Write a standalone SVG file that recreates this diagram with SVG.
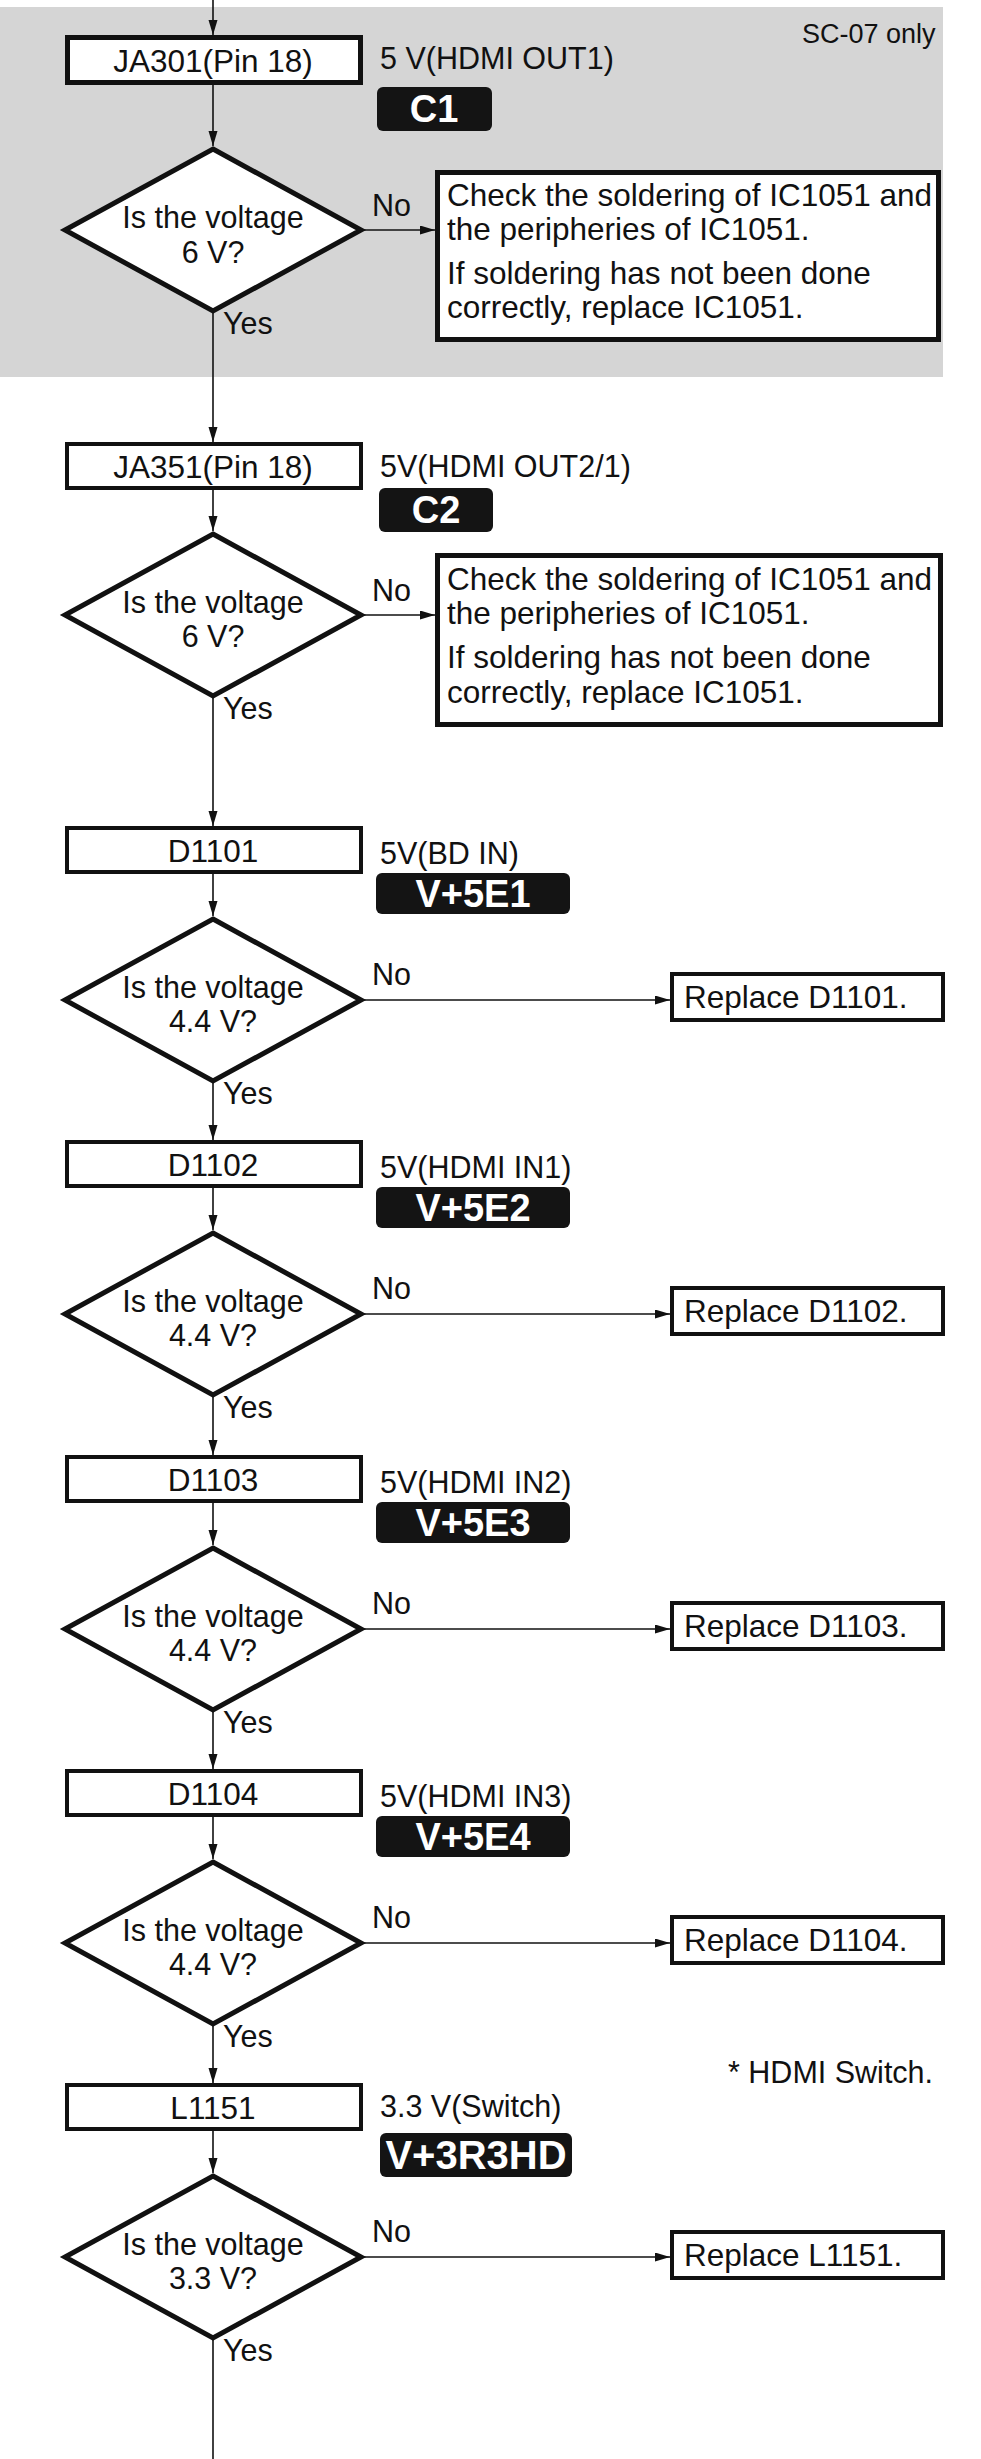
<svg xmlns="http://www.w3.org/2000/svg" width="981" height="2459" viewBox="0 0 981 2459">
<style>
text{font-family:"Liberation Sans",Arial,sans-serif;fill:#111;}
.t{font-size:30.5px;}
.q{font-size:30.5px;}
.m{font-size:31.5px;}
.c{text-anchor:middle;}
.box{fill:#fff;stroke:#111;stroke-width:4;}
.bx5{fill:#fff;stroke:#111;stroke-width:5;}
.dia{fill:#fff;stroke:#111;stroke-width:5;stroke-linejoin:miter;}
.badge{fill:#141414;}
.bt{font-size:38px;font-weight:bold;fill:#fff;text-anchor:middle;}
.ln{stroke:#111;stroke-width:1.6;fill:none;}
</style>
<defs>
<marker id="ah" markerUnits="userSpaceOnUse" markerWidth="16" markerHeight="10" refX="15" refY="4.5" orient="auto">
<path d="M0,0 L15,4.5 L0,9 z" fill="#111"/>
</marker>
</defs>
<rect width="981" height="2459" fill="#fff"/>
<g id="band">
<rect x="0" y="7" width="943" height="370" fill="#d5d5d5"/>
<text x="802" y="43" style="font-size:27px">SC-07 only</text>
</g>
<g id="connectors">
<line class="ln" x1="213" y1="0" x2="213" y2="35" marker-end="url(#ah)"/>
<line class="ln" x1="213" y1="85" x2="213" y2="146" marker-end="url(#ah)"/>
<line class="ln" x1="213" y1="311" x2="213" y2="442" marker-end="url(#ah)"/>
<line class="ln" x1="213" y1="490" x2="213" y2="531" marker-end="url(#ah)"/>
<line class="ln" x1="213" y1="696" x2="213" y2="826" marker-end="url(#ah)"/>
<line class="ln" x1="213" y1="874" x2="213" y2="916" marker-end="url(#ah)"/>
<line class="ln" x1="213" y1="1081" x2="213" y2="1140" marker-end="url(#ah)"/>
<line class="ln" x1="213" y1="1188" x2="213" y2="1230" marker-end="url(#ah)"/>
<line class="ln" x1="213" y1="1395" x2="213" y2="1455" marker-end="url(#ah)"/>
<line class="ln" x1="213" y1="1503" x2="213" y2="1545" marker-end="url(#ah)"/>
<line class="ln" x1="213" y1="1710" x2="213" y2="1769" marker-end="url(#ah)"/>
<line class="ln" x1="213" y1="1817" x2="213" y2="1859" marker-end="url(#ah)"/>
<line class="ln" x1="213" y1="2024" x2="213" y2="2083" marker-end="url(#ah)"/>
<line class="ln" x1="213" y1="2131" x2="213" y2="2173" marker-end="url(#ah)"/>
<line class="ln" x1="213" y1="2338" x2="213" y2="2459"/>
<line class="ln" x1="361" y1="230" x2="435" y2="230" marker-end="url(#ah)"/>
<line class="ln" x1="361" y1="615" x2="435" y2="615" marker-end="url(#ah)"/>
<line class="ln" x1="361" y1="1000" x2="670" y2="1000" marker-end="url(#ah)"/>
<line class="ln" x1="361" y1="1314" x2="670" y2="1314" marker-end="url(#ah)"/>
<line class="ln" x1="361" y1="1629" x2="670" y2="1629" marker-end="url(#ah)"/>
<line class="ln" x1="361" y1="1943" x2="670" y2="1943" marker-end="url(#ah)"/>
<line class="ln" x1="361" y1="2257" x2="670" y2="2257" marker-end="url(#ah)"/>
</g>
<g id="ja301">
<rect class="bx5" x="67.5" y="37.5" width="293" height="45"/>
<text class="m c" x="213" y="72">JA301(Pin 18)</text>
<text class="t" x="380" y="69">5 V(HDMI OUT1)</text>
<rect class="badge" x="377" y="87" width="115" height="44" rx="6"/>
<text class="bt" x="434" y="122">C1</text>
</g>
<g id="q1">
<polygon class="dia" points="213,149 361,230 213,311 65,230"/>
<text class="q c" x="213" y="228">Is the voltage</text>
<text class="q c" x="213" y="263">6 V?</text>
<text class="t" x="372" y="216">No</text>
<text class="t" x="223" y="334">Yes</text>
</g>
<g id="fix1">
<rect class="bx5" x="437.5" y="172.5" width="501" height="167"/>
<text class="m" x="447" y="206">Check the soldering of IC1051 and</text>
<text class="m" x="447" y="240">the peripheries of IC1051.</text>
<text class="m" x="447" y="284">If soldering has not been done</text>
<text class="m" x="447" y="318">correctly, replace IC1051.</text>
</g>
<g id="ja351">
<rect class="box" x="67" y="444" width="294" height="44"/>
<text class="m c" x="213" y="478">JA351(Pin 18)</text>
<text class="t" x="380" y="477">5V(HDMI OUT2/1)</text>
<rect class="badge" x="379" y="488" width="114" height="44" rx="6"/>
<text class="bt" x="436" y="523">C2</text>
</g>
<g id="q2">
<polygon class="dia" points="213,534 361,615 213,696 65,615"/>
<text class="q c" x="213" y="613">Is the voltage</text>
<text class="q c" x="213" y="647">6 V?</text>
<text class="t" x="372" y="601">No</text>
<text class="t" x="223" y="719">Yes</text>
</g>
<g id="fix2">
<rect class="bx5" x="437.5" y="555.5" width="503" height="169"/>
<text class="m" x="447" y="590">Check the soldering of IC1051 and</text>
<text class="m" x="447" y="624">the peripheries of IC1051.</text>
<text class="m" x="447" y="668">If soldering has not been done</text>
<text class="m" x="447" y="703">correctly, replace IC1051.</text>
</g>
<g id="d1101">
<rect class="box" x="67" y="828" width="294" height="44"/>
<text class="m c" x="213" y="862">D1101</text>
<text class="t" x="380" y="864">5V(BD IN)</text>
<rect class="badge" x="376" y="873" width="194" height="41" rx="6"/>
<text class="bt" x="473" y="907">V+5E1</text>
</g>
<g id="q3">
<polygon class="dia" points="213,919 361,1000 213,1081 65,1000"/>
<text class="q c" x="213" y="998">Is the voltage</text>
<text class="q c" x="213" y="1032">4.4 V?</text>
<text class="t" x="372" y="985">No</text>
<text class="t" x="223" y="1104">Yes</text>
</g>
<g id="r1">
<rect class="box" x="672" y="974" width="271" height="46"/>
<text class="m" x="684" y="1008">Replace D1101.</text>
</g>
<g id="d1102">
<rect class="box" x="67" y="1142" width="294" height="44"/>
<text class="m c" x="213" y="1176">D1102</text>
<text class="t" x="380" y="1178">5V(HDMI IN1)</text>
<rect class="badge" x="376" y="1187" width="194" height="41" rx="6"/>
<text class="bt" x="473" y="1221">V+5E2</text>
</g>
<g id="q4">
<polygon class="dia" points="213,1233 361,1314 213,1395 65,1314"/>
<text class="q c" x="213" y="1312">Is the voltage</text>
<text class="q c" x="213" y="1346">4.4 V?</text>
<text class="t" x="372" y="1299">No</text>
<text class="t" x="223" y="1418">Yes</text>
</g>
<g id="r2">
<rect class="box" x="672" y="1288" width="271" height="46"/>
<text class="m" x="684" y="1322">Replace D1102.</text>
</g>
<g id="d1103">
<rect class="box" x="67" y="1457" width="294" height="44"/>
<text class="m c" x="213" y="1491">D1103</text>
<text class="t" x="380" y="1493">5V(HDMI IN2)</text>
<rect class="badge" x="376" y="1502" width="194" height="41" rx="6"/>
<text class="bt" x="473" y="1536">V+5E3</text>
</g>
<g id="q5">
<polygon class="dia" points="213,1548 361,1629 213,1710 65,1629"/>
<text class="q c" x="213" y="1627">Is the voltage</text>
<text class="q c" x="213" y="1661">4.4 V?</text>
<text class="t" x="372" y="1614">No</text>
<text class="t" x="223" y="1733">Yes</text>
</g>
<g id="r3">
<rect class="box" x="672" y="1603" width="271" height="46"/>
<text class="m" x="684" y="1637">Replace D1103.</text>
</g>
<g id="d1104">
<rect class="box" x="67" y="1771" width="294" height="44"/>
<text class="m c" x="213" y="1805">D1104</text>
<text class="t" x="380" y="1807">5V(HDMI IN3)</text>
<rect class="badge" x="376" y="1816" width="194" height="41" rx="6"/>
<text class="bt" x="473" y="1850">V+5E4</text>
</g>
<g id="q6">
<polygon class="dia" points="213,1862 361,1943 213,2024 65,1943"/>
<text class="q c" x="213" y="1941">Is the voltage</text>
<text class="q c" x="213" y="1975">4.4 V?</text>
<text class="t" x="372" y="1928">No</text>
<text class="t" x="223" y="2047">Yes</text>
</g>
<g id="r4">
<rect class="box" x="672" y="1917" width="271" height="46"/>
<text class="m" x="684" y="1951">Replace D1104.</text>
</g>
<g id="note">
<text class="t" x="728" y="2083">* HDMI Switch.</text>
</g>
<g id="l1151">
<rect class="box" x="67" y="2085" width="294" height="44"/>
<text class="m c" x="213" y="2119">L1151</text>
<text class="t" x="380" y="2117">3.3 V(Switch)</text>
<rect class="badge" x="380" y="2133" width="192" height="44" rx="6"/>
<text class="bt" x="476" y="2169" style="font-size:40px">V+3R3HD</text>
</g>
<g id="q7">
<polygon class="dia" points="213,2176 361,2257 213,2338 65,2257"/>
<text class="q c" x="213" y="2255">Is the voltage</text>
<text class="q c" x="213" y="2289">3.3 V?</text>
<text class="t" x="372" y="2242">No</text>
<text class="t" x="223" y="2361">Yes</text>
</g>
<g id="r5">
<rect class="box" x="672" y="2232" width="271" height="46"/>
<text class="m" x="684" y="2266">Replace L1151.</text>
</g>
</svg>
